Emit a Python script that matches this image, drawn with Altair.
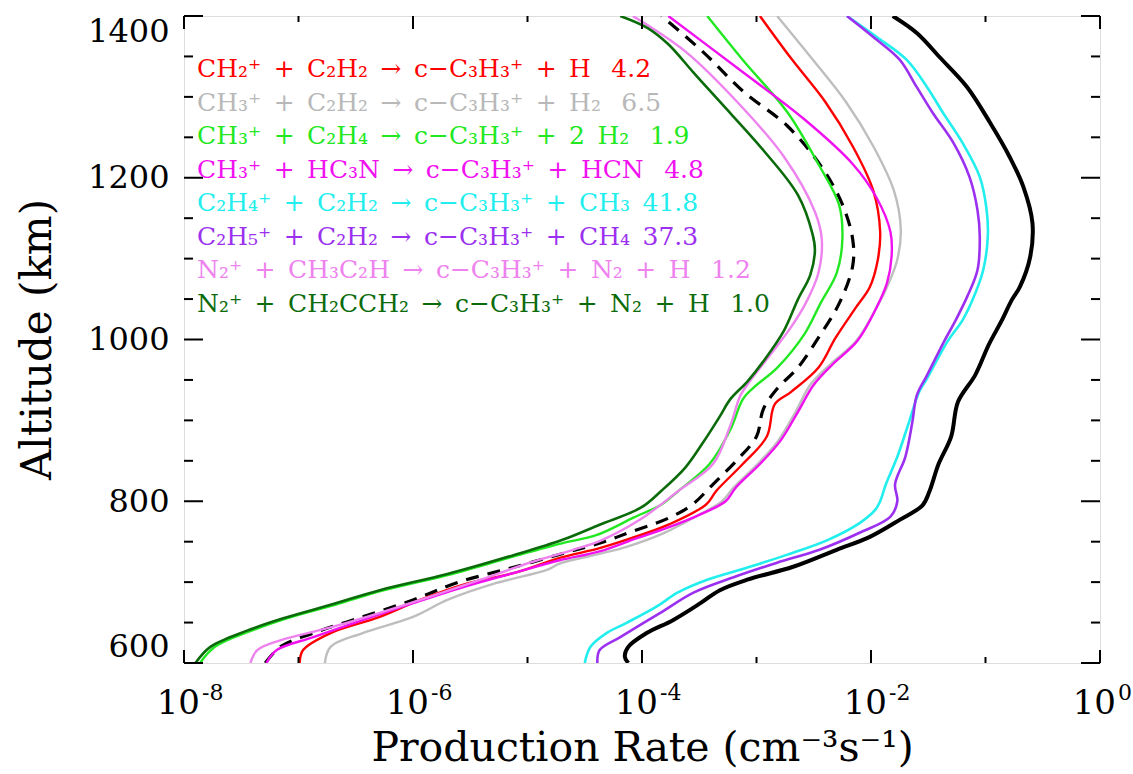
import altair as alt
import pandas as pd

# ---- values: altitude (km) and log10 of production rate (cm^-3 s^-1)
ALT_TOTAL = [600, 608, 620, 637, 653, 674, 690, 703, 719, 740, 756, 777, 795, 812, 846, 880, 923, 956, 994, 1023, 1049, 1065, 1102, 1144, 1189, 1226, 1268, 1312, 1349, 1379, 1400]
LOG_TOTAL = [-4.12, -4.15, -4.12, -3.96, -3.73, -3.49, -3.32, -3.08, -2.68, -2.30, -2.01, -1.75, -1.55, -1.49, -1.41, -1.30, -1.24, -1.09, -0.97, -0.86, -0.77, -0.70, -0.61, -0.59, -0.67, -0.79, -0.96, -1.16, -1.40, -1.60, -1.81]

ALT_SUM = [600, 620, 637, 657, 678, 700, 718, 737, 750, 762, 779, 796, 821, 851, 880, 914, 939, 965, 1002, 1044, 1091, 1124, 1167, 1213, 1264, 1306, 1356, 1400]
LOG_SUM = [-7.29, -7.16, -6.87, -6.44, -6.00, -5.60, -5.13, -4.65, -4.33, -4.10, -3.77, -3.56, -3.38, -3.17, -3.00, -2.94, -2.82, -2.64, -2.46, -2.28, -2.16, -2.16, -2.25, -2.43, -2.73, -3.11, -3.47, -3.83]

ALT_RED = [600, 616, 637, 657, 678, 697, 712, 730, 742, 754, 771, 796, 813, 846, 880, 920, 935, 965, 1002, 1040, 1065, 1099, 1133, 1184, 1239, 1294, 1348, 1400]
LOG_RED = [-6.99, -6.96, -6.72, -6.29, -5.94, -5.56, -5.10, -4.72, -4.37, -4.10, -3.77, -3.44, -3.35, -3.12, -2.91, -2.84, -2.70, -2.46, -2.31, -2.13, -2.01, -1.94, -1.92, -1.98, -2.16, -2.40, -2.70, -2.97]

ALT_GRAY = [600, 620, 637, 657, 678, 699, 715, 723, 735, 743, 760, 785, 800, 817, 846, 875, 910, 944, 970, 998, 1040, 1065, 1099, 1137, 1184, 1239, 1294, 1348, 1400]
LOG_GRAY = [-6.77, -6.72, -6.44, -6.00, -5.70, -5.27, -4.83, -4.72, -4.37, -4.15, -3.82, -3.48, -3.30, -3.20, -2.99, -2.81, -2.66, -2.53, -2.35, -2.13, -1.95, -1.86, -1.77, -1.74, -1.80, -1.98, -2.22, -2.52, -2.82]

ALT_GREEN = [600, 620, 640, 655, 672, 690, 710, 733, 748, 758, 780, 796, 813, 846, 888, 926, 940, 965, 1007, 1045, 1082, 1124, 1167, 1217, 1281, 1344, 1400]
LOG_GREEN = [-7.86, -7.73, -7.41, -7.11, -6.68, -6.25, -5.66, -5.09, -4.70, -4.40, -4.07, -3.83, -3.68, -3.41, -3.23, -3.12, -3.03, -2.82, -2.58, -2.44, -2.30, -2.25, -2.28, -2.46, -2.73, -3.11, -3.43]

ALT_MAGENTA = [600, 616, 632, 653, 674, 694, 711, 727, 738, 754, 766, 785, 800, 817, 846, 875, 910, 944, 970, 998, 1040, 1070, 1103, 1133, 1175, 1217, 1272, 1336, 1400]
LOG_MAGENTA = [-7.28, -7.19, -6.87, -6.44, -6.00, -5.56, -5.13, -4.72, -4.37, -4.05, -3.80, -3.47, -3.27, -3.18, -2.97, -2.79, -2.64, -2.50, -2.33, -2.12, -1.95, -1.86, -1.82, -1.83, -1.95, -2.16, -2.58, -3.17, -3.77]

ALT_CYAN = [600, 620, 637, 650, 670, 687, 703, 718, 734, 752, 773, 790, 800, 821, 855, 897, 935, 952, 998, 1024, 1050, 1086, 1127, 1160, 1201, 1243, 1280, 1312, 1346, 1374, 1400]
LOG_CYAN = [-4.50, -4.45, -4.31, -4.13, -3.87, -3.69, -3.43, -3.08, -2.73, -2.38, -2.10, -1.96, -1.92, -1.87, -1.77, -1.67, -1.58, -1.51, -1.33, -1.20, -1.11, -1.02, -0.98, -0.99, -1.05, -1.20, -1.37, -1.51, -1.69, -1.95, -2.21]

ALT_PURPLE = [600, 616, 632, 662, 687, 706, 724, 740, 761, 781, 800, 821, 855, 897, 931, 956, 998, 1024, 1053, 1086, 1127, 1160, 1201, 1243, 1280, 1312, 1346, 1374, 1400]
LOG_PURPLE = [-4.39, -4.37, -4.19, -3.84, -3.55, -3.20, -2.82, -2.45, -2.10, -1.83, -1.77, -1.79, -1.70, -1.64, -1.60, -1.51, -1.36, -1.26, -1.16, -1.07, -1.05, -1.07, -1.14, -1.28, -1.46, -1.60, -1.75, -1.98, -2.21]

ALT_VIOLET = [600, 616, 628, 644, 662, 682, 703, 724, 740, 752, 777, 813, 846, 893, 931, 948, 981, 1015, 1045, 1082, 1124, 1158, 1226, 1294, 1356, 1400]
LOG_VIOLET = [-7.42, -7.36, -7.16, -6.72, -6.29, -5.85, -5.41, -4.98, -4.60, -4.35, -4.02, -3.68, -3.38, -3.23, -3.14, -3.06, -2.88, -2.70, -2.57, -2.46, -2.43, -2.49, -2.76, -3.17, -3.62, -4.08]

ALT_DKGREEN = [600, 620, 640, 655, 672, 690, 710, 733, 752, 771, 792, 813, 842, 872, 905, 926, 948, 973, 1011, 1049, 1080, 1110, 1130, 1179, 1234, 1294, 1330, 1365, 1385, 1400]
LOG_DKGREEN = [-7.90, -7.77, -7.45, -7.14, -6.72, -6.29, -5.70, -5.13, -4.70, -4.37, -4.01, -3.83, -3.62, -3.47, -3.32, -3.23, -3.08, -2.94, -2.76, -2.64, -2.53, -2.49, -2.51, -2.64, -2.94, -3.32, -3.55, -3.77, -3.95, -4.19]

# reaction labels (en spaces keep the wide gaps of the original)
S = "\u2002"
G = "\u2002\u00a0"
LEGEND_TEXT = [
    f"CH₂⁺{S}+{S}C₂H₂{S}→{S}c−C₃H₃⁺{S}+{S}H{G}4.2",
    f"CH₃⁺{S}+{S}C₂H₂{S}→{S}c−C₃H₃⁺{S}+{S}H₂{G}6.5",
    f"CH₃⁺{S}+{S}C₂H₄{S}→{S}c−C₃H₃⁺{S}+{S}2{S}H₂{G}1.9",
    f"CH₃⁺{S}+{S}HC₃N{S}→{S}c−C₃H₃⁺{S}+{S}HCN{G}4.8",
    f"C₂H₄⁺{S}+{S}C₂H₂{S}→{S}c−C₃H₃⁺{S}+{S}CH₃{S}41.8",
    f"C₂H₅⁺{S}+{S}C₂H₂{S}→{S}c−C₃H₃⁺{S}+{S}CH₄{S}37.3",
    f"N₂⁺{S}+{S}CH₃C₂H{S}→{S}c−C₃H₃⁺{S}+{S}N₂{S}+{S}H{G}1.2",
    f"N₂⁺{S}+{S}CH₂CCH₂{S}→{S}c−C₃H₃⁺{S}+{S}N₂{S}+{S}H{G}1.0",
]
LEGEND_COLORS = ["#FF0000", "#B8B8B8", "#22E822", "#F010F0", "#22EEEE", "#9B30F0", "#EE82EE", "#0B6B0B"]

Y_MAJOR = [600, 800, 1000, 1200, 1400]
Y_MINOR = [650, 700, 750, 850, 900, 950, 1050, 1100, 1150, 1250, 1300, 1350]
X_MAJOR = [1e-8, 1e-6, 1e-4, 1e-2, 1.0]
X_MINOR = [1e-7, 1e-5, 1e-3, 1e-1]
X_EXPONENTS = ["-8", "-6", "-4", "-2", "0"]

W, H = 916, 647
FONT = "DejaVu Serif"

xscale = alt.Scale(type="log", domain=[1e-8, 1.0], nice=False)
yscale = alt.Scale(domain=[600, 1400], nice=False, zero=False)

x_axis = alt.Axis(values=X_MAJOR, labels=False, ticks=False, tickSize=0, domain=False, grid=False,
                  title="Production Rate (cm⁻³s⁻¹)", titleFont=FONT, titleFontSize=41,
                  titleFontWeight="normal", titleColor="black", titleX=W / 2, titleY=97,
                  titleAlign="center", titleBaseline="alphabetic")
y_axis = alt.Axis(values=Y_MAJOR, format="d", ticks=False, tickSize=0, domain=False, grid=False,
                  labelFont=FONT, labelFontSize=32, labelColor="black", labelPadding=15,
                  labelFlush=True,
                  title="Altitude (km)", titleFont=FONT, titleFontSize=42, titleFontWeight="normal",
                  titleColor="black", titleX=-134, titleY=323, titleAngle=270,
                  titleAlign="center", titleBaseline="alphabetic")


def X(field):
    return alt.X(f"{field}:Q", scale=xscale, axis=x_axis)


def Y(field):
    return alt.Y(f"{field}:Q", scale=yscale, axis=y_axis)


SERIES = [
    (ALT_TOTAL, LOG_TOTAL, "#000000", 4.0, None),
    (ALT_SUM, LOG_SUM, "#000000", 3.2, [13, 9]),
    (ALT_GRAY, LOG_GRAY, "#BEBEBE", 2.4, None),
    (ALT_RED, LOG_RED, "#FF0000", 2.4, None),
    (ALT_GREEN, LOG_GREEN, "#22E822", 2.4, None),
    (ALT_MAGENTA, LOG_MAGENTA, "#F010F0", 2.4, None),
    (ALT_CYAN, LOG_CYAN, "#22EEEE", 2.6, None),
    (ALT_PURPLE, LOG_PURPLE, "#9B30F0", 2.6, None),
    (ALT_VIOLET, LOG_VIOLET, "#EE82EE", 2.4, None),
    (ALT_DKGREEN, LOG_DKGREEN, "#0B6B0B", 2.6, None),
]

layers = []
for alts, logs, color, width, dash in SERIES:
    df = pd.DataFrame({"alt": alts, "rate": [10 ** v for v in logs]})
    kw = dict(color=color, strokeWidth=width, interpolate="catmull-rom", clip=True)
    if dash:
        kw["strokeDash"] = dash
    layers.append(alt.Chart(df).mark_line(**kw).encode(x=X("rate"), y=Y("alt"), order="alt:Q"))


# inward tick marks on all four sides
def ytick(values, x0, x1):
    return alt.Chart(pd.DataFrame({"v": values})).mark_rule(color="black", strokeWidth=2).encode(
        y=Y("v"), x=alt.value(x0), x2=alt.value(x1))


def xtick(values, y0, y1):
    return alt.Chart(pd.DataFrame({"v": values})).mark_rule(color="black", strokeWidth=2).encode(
        x=X("v"), y=alt.value(y0), y2=alt.value(y1))


layers += [
    ytick(Y_MAJOR, 0, 19), ytick(Y_MINOR, 0, 9),
    ytick(Y_MAJOR, W, W - 19), ytick(Y_MINOR, W, W - 9),
    xtick(X_MAJOR, H, H - 13), xtick(X_MINOR, H, H - 6),
    xtick(X_MAJOR, 0, 13), xtick(X_MINOR, 0, 6),
]

# x tick labels: "10" with superscript exponent
xlab = pd.DataFrame({"v": X_MAJOR, "e": X_EXPONENTS})
layers.append(alt.Chart(xlab).mark_text(font=FONT, fontSize=34, align="right", baseline="alphabetic",
                                        dx=16, color="black").encode(
    x=X("v"), y=alt.value(H + 51), text=alt.value("10")))
layers.append(alt.Chart(xlab).mark_text(font=FONT, fontSize=22, align="left", baseline="alphabetic",
                                        dx=18, color="black").encode(
    x=X("v"), y=alt.value(H + 37), text="e:N"))

for i, (txt, col) in enumerate(zip(LEGEND_TEXT, LEGEND_COLORS)):
    layers.append(alt.Chart(pd.DataFrame({"t": [txt]})).mark_text(
        font=FONT, fontSize=25, align="left", baseline="alphabetic", color=col).encode(
        x=alt.value(13), y=alt.value(61 + 33.5 * i), text="t:N"))

chart = alt.layer(*layers).properties(
    width=W, height=H,
    padding={"left": 184, "top": 16, "right": 33, "bottom": 111},
    autosize=alt.AutoSizeParams(type="none"),
).configure_view(stroke="black", strokeWidth=2.5).configure(background="white")

chart.save("out.html", embed_options={"renderer": "svg", "actions": False})
